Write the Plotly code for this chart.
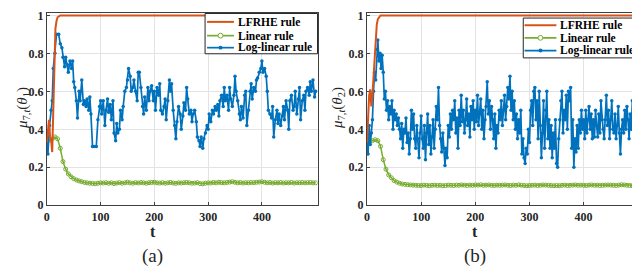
import plotly.graph_objects as go

# ---------------- Panel (a) data ----------------
A_LOG_T = [0, 2, 5, 8, 10, 12, 15, 18, 22, 25,
           28, 30, 33, 35, 38, 40, 43, 46, 48, 50,
           52, 55, 57, 60, 62, 65, 68, 70, 73, 75,
           78, 80, 82, 85, 88, 92, 95, 98, 100, 102,
           105, 108, 110, 113, 115, 118, 120, 123, 125, 128,
           130, 132, 135, 137, 140, 142, 145, 148, 150, 152,
           155, 157, 160, 162, 165, 168, 170, 172, 175, 178,
           180, 182, 185, 188, 190, 192, 195, 198, 200, 202,
           205, 208, 210, 212, 215, 218, 220, 222, 225, 228,
           230, 232, 235, 238, 240, 242, 245, 248, 250, 253,
           255, 258, 260, 262, 265, 268, 270, 272, 275, 278,
           280, 283, 285, 287, 290, 292, 295, 298, 300, 302,
           305, 308, 310, 313, 315, 318, 320, 322, 325, 328,
           330, 332, 335, 338, 340, 342, 345, 348, 350, 352,
           355, 358, 360, 362, 365, 368, 370, 372, 375, 378,
           380, 382, 385, 388, 390, 392, 395, 398, 400, 402,
           405, 408, 410, 412, 415, 418, 420, 422, 425, 428,
           430, 432, 435, 438, 440, 442, 445, 448, 450, 452,
           455, 458, 460, 462, 465, 468, 470, 472, 475, 478,
           480, 482, 485, 488, 490, 492, 495, 498, 500]
A_LOG_V = [.33, .27, .42, .50, .55, .72, .80, .90, .90, .85,
           .83, .78, .73, .78, .74, .70, .76, .72, .76, .65,
           .62, .55, .46, .60, .55, .66, .53, .55, .52, .56,
           .50, .57, .48, .31, .31, .31, .45, .52, .55, .48,
           .55, .42, .50, .56, .49, .53, .45, .55, .38, .34,
           .43, .38, .40, .50, .45, .52, .60, .62, .66, .72,
           .68, .60, .62, .66, .60, .55, .70, .70, .62, .52,
           .48, .57, .50, .62, .55, .60, .63, .55, .60, .50,
           .62, .58, .64, .50, .48, .52, .56, .45, .55, .66,
           .60, .64, .50, .42, .35, .44, .52, .48, .40, .47,
           .54, .50, .62, .56, .48, .50, .44, .48, .50, .44,
           .36, .34, .31, .36, .30, .35, .38, .42, .40, .48,
           .44, .50, .48, .52, .50, .53, .47, .55, .58, .52,
           .62, .55, .58, .50, .62, .56, .52, .58, .68, .60,
           .55, .48, .45, .52, .46, .58, .60, .42, .50, .60,
           .64, .56, .62, .60, .66, .67, .70, .72, .76, .70,
           .72, .68, .60, .50, .48, .46, .52, .36, .45, .50,
           .43, .48, .42, .47, .52, .45, .55, .50, .40, .55,
           .58, .50, .52, .60, .48, .56, .62, .45, .55, .58,
           .50, .60, .62, .58, .65, .60, .66, .57, .60]

LIN_T = list(range(0, 501, 5))
A_LIN_V = [.33, .345, .35, .36, .35, .30, .23, .19, .165, .15,
           .14, .133, .128, .124, .12, .118, .116, .115, .113, .116,
           .118, .117, .119, .116, .118, .114, .117, .119, .116, .118,
           .121, .118, .116, .119, .117, .12, .118, .116, .119, .12,
           .121, .118, .117, .119, .116, .118, .12, .117, .115, .118,
           .117, .119, .12, .118, .116, .117, .119, .114, .113, .116,
           .118, .117, .12, .118, .121, .119, .118, .12, .122, .124,
           .121, .118, .12, .117, .119, .118, .12, .119, .121, .122,
           .124, .121, .118, .12, .117, .119, .118, .12, .117, .119,
           .118, .12, .117, .119, .118, .12, .118, .119, .12, .118,
           .118]

A_LF_T = [0, 2, 4, 6, 8, 10, 12, 14, 16, 18, 20, 25, 30, 500]
A_LF_V = [.33, .38, .45, .36, .34, .28, .55, .78, .93, .97, .99, 1, 1, 1]

# ---------------- Panel (b) data ----------------
B_LOG_T = list(range(0, 501, 2))
B_LOG_V = [.33, .27, .42, .32, .38, .45, .60, .70, .66, .82,
           .87, .76, .80, .72, .79, .70, .56, .60, .50, .55,
           .45, .52, .48, .55, .40, .50, .45, .48, .42, .46,
           .40, .35, .43, .30, .40, .38, .46, .33, .38, .27,
           .35, .50, .40, .48, .35, .30, .42, .35, .25, .38,
           .47, .35, .30, .42, .24, .38, .48, .32, .42, .27,
           .36, .45, .30, .40, .52, .45, .62, .42, .35, .28,
           .38, .30, .21, .30, .25, .42, .36, .48, .40, .50,
           .45, .55, .38, .46, .30, .50, .42, .58, .44, .50,
           .38, .45, .56, .42, .48, .36, .52, .45, .55, .40,
           .50, .44, .58, .42, .48, .56, .40, .50, .35, .45,
           .52, .65, .48, .55, .40, .52, .45, .35, .48, .30,
           .42, .38, .50, .45, .55, .42, .50, .58, .45, .52,
           .62, .56, .68, .50, .60, .45, .55, .40, .48, .35,
           .45, .38, .50, .27, .35, .25, .22, .30, .27, .40,
           .33, .50, .55, .42, .60, .62, .45, .55, .35, .60,
           .42, .25, .38, .55, .30, .50, .60, .35, .45, .30,
           .42, .25, .38, .30, .45, .22, .20, .35, .45, .55,
           .60, .38, .50, .45, .58, .40, .60, .55, .62, .30,
           .45, .20, .35, .28, .42, .30, .45, .38, .50, .40,
           .45, .35, .50, .38, .45, .52, .40, .48, .35, .45,
           .36, .50, .42, .36, .48, .38, .55, .45, .40, .35,
           .45, .58, .42, .50, .35, .45, .55, .40, .38, .48,
           .35, .42, .52, .38, .27, .40, .45, .38, .50, .40,
           .52, .45, .35, .48, .40, .55, .45, .35, .52, .40,
           .45]

B_LIN_V = [.33, .335, .34, .345, .34, .31, .24, .19, .16, .145,
           .13, .122, .116, .112, .11, .108, .107, .106, .105, .104,
           .104, .106, .105, .103, .105, .106, .104, .105, .103, .104,
           .106, .105, .104, .106, .105, .107, .106, .104, .106, .105,
           .107, .106, .108, .105, .106, .107, .105, .104, .106, .105,
           .106, .107, .105, .104, .106, .105, .107, .106, .104, .103,
           .104, .105, .106, .104, .105, .107, .106, .105, .104, .103,
           .104, .103, .105, .106, .104, .105, .106, .107, .105, .106,
           .105, .104, .106, .107, .105, .106, .104, .105, .106, .107,
           .106, .105, .104, .106, .108, .107, .105, .104, .103, .104,
           .103]

B_LF_T = [0, 2, 4, 6, 8, 10, 12, 14, 16, 18, 20, 22, 25, 500]
B_LF_V = [.33, .45, .58, .61, .52, .58, .68, .80, .90, .95, .98, .99, 1, 1]

X_TICKS = [0, 100, 200, 300, 400]
Y_TICKS = [0, 0.2, 0.4, 0.6, 0.8, 1]
Y_TICK_TEXT = ["0", "0.2", "0.4", "0.6", "0.8", "1"]
SERIES_NAMES = ["LFRHE rule", "Linear rule", "Log-linear rule"]

C_OR = "#D95319"
C_GR = "#77AC30"
C_BL = "#0072BD"
SERIF = "Liberation Serif"

# the page places the figure at an 8px offset; work in figure pixels
W, H = 632, 267


def px(x):
    return x / W


def py(y):
    return 1 - y / H


fig = go.Figure()

panels = [
    ("x", "y", A_LF_T, A_LF_V, A_LIN_V, A_LOG_T, A_LOG_V),
    ("x2", "y2", B_LF_T, B_LF_V, B_LIN_V, B_LOG_T, B_LOG_V),
]
for xa, ya, lft, lfv, linv, logt, logv in panels:
    fig.add_trace(go.Scatter(x=LIN_T, y=linv, mode="lines+markers", name=SERIES_NAMES[1],
                             line=dict(color=C_GR, width=1.5),
                             marker=dict(symbol="circle-open", size=4, color=C_GR,
                                         line=dict(width=1, color=C_GR)),
                             xaxis=xa, yaxis=ya, showlegend=False))
    fig.add_trace(go.Scatter(x=logt, y=logv, mode="lines+markers", name=SERIES_NAMES[2],
                             line=dict(color=C_BL, width=1.7),
                             marker=dict(symbol="circle", size=3.5, color=C_BL),
                             xaxis=xa, yaxis=ya, showlegend=False))
    fig.add_trace(go.Scatter(x=lft, y=lfv, mode="lines", name=SERIES_NAMES[0],
                             line=dict(color=C_OR, width=2), xaxis=xa, yaxis=ya,
                             showlegend=False))

axis_common = dict(showgrid=True, gridcolor="#e3e3e3", gridwidth=1, zeroline=False,
                   showline=True, linecolor="#404040", linewidth=1, mirror=True,
                   ticks="inside", ticklen=3, tickcolor="#404040", layer="below traces",
                   tickfont=dict(family=SERIF, size=12, color="#262626", weight="bold"))

ydom = [py(201.3), py(0.5)]
fig.update_layout(
    width=W, height=H,
    margin=dict(l=0, r=0, t=0, b=0),
    paper_bgcolor="white", plot_bgcolor="white",
    xaxis=dict(domain=[px(36), px(308)], range=[0, 503.5], tickvals=X_TICKS, anchor="y", **axis_common),
    yaxis=dict(domain=ydom, range=[0, 1.01], tickvals=Y_TICKS, ticktext=Y_TICK_TEXT, anchor="x",
               ticklabeloverflow="allow", **axis_common),
    xaxis2=dict(domain=[px(357.7), px(630.3)], range=[0, 501], tickvals=X_TICKS, anchor="y2", **axis_common),
    yaxis2=dict(domain=ydom, range=[0, 1.01], tickvals=Y_TICKS, ticktext=Y_TICK_TEXT, anchor="x2",
                ticklabeloverflow="allow", **axis_common),
    showlegend=False,
)

ann_font = dict(family=SERIF, color="#262626")
for text, x, y, size in [("<b>t</b>", 143, 229, 16), ("<b>t</b>", 466, 229, 16),
                         ("(a)", 142, 254, 19), ("(b)", 466, 254, 19)]:
    fig.add_annotation(text=text, x=px(x), y=py(y), xref="paper", yref="paper",
                       showarrow=False, xanchor="center", yanchor="middle",
                       font=dict(size=size, **ann_font))
for xpx, sub in [(11.5, "1"), (328, "2")]:
    fig.add_annotation(text=f"<i>μ</i><sub>7,<i>t</i></sub>(<i>θ</i><sub>{sub}</sub>)",
                       x=px(xpx), y=py(99), xref="paper", yref="paper",
                       showarrow=False, textangle=-90, xanchor="center", yanchor="middle",
                       font=dict(size=15, **ann_font))

# ---- legend boxes (drawn as layout shapes + text) ----
legend_boxes = [
    # box x0, x1, y0, y1, line x0, x1, text x, entry ys
    (195, 308, 0.5, 42.7, 197, 224, 226, [9.3, 23.7, 36.3]),
    (514.7, 630, 5.3, 47, 516, 548, 550, [12.7, 26, 39.3]),
]
colors = [C_OR, C_GR, C_BL]
for bx0, bx1, by0, by1, lx0, lx1, tx, ys in legend_boxes:
    fig.add_shape(type="rect", xref="paper", yref="paper",
                  x0=px(bx0), x1=px(bx1), y0=py(by1), y1=py(by0),
                  fillcolor="white", line=dict(color="#262626", width=1), layer="above")
    for i, (yy, col) in enumerate(zip(ys, colors)):
        fig.add_shape(type="line", xref="paper", yref="paper",
                      x0=px(lx0), x1=px(lx1), y0=py(yy), y1=py(yy),
                      line=dict(color=col, width=2 if i == 0 else 1.7), layer="above")
        mx = (lx0 + lx1) / 2
        if i == 1:
            fig.add_shape(type="circle", xref="paper", yref="paper",
                          x0=px(mx - 2.5), x1=px(mx + 2.5), y0=py(yy + 2.5), y1=py(yy - 2.5),
                          fillcolor="white", line=dict(color=col, width=1), layer="above")
        elif i == 2:
            fig.add_shape(type="circle", xref="paper", yref="paper",
                          x0=px(mx - 2), x1=px(mx + 2), y0=py(yy + 2), y1=py(yy - 2),
                          fillcolor=col, line=dict(color=col, width=0), layer="above")
        fig.add_annotation(text=f"<b>{SERIES_NAMES[i]}</b>", x=px(tx), y=py(yy),
                           xref="paper", yref="paper", showarrow=False,
                           xanchor="left", yanchor="middle",
                           font=dict(family=SERIF, size=11.5, color="black"))

fig.write_html("out.html")
